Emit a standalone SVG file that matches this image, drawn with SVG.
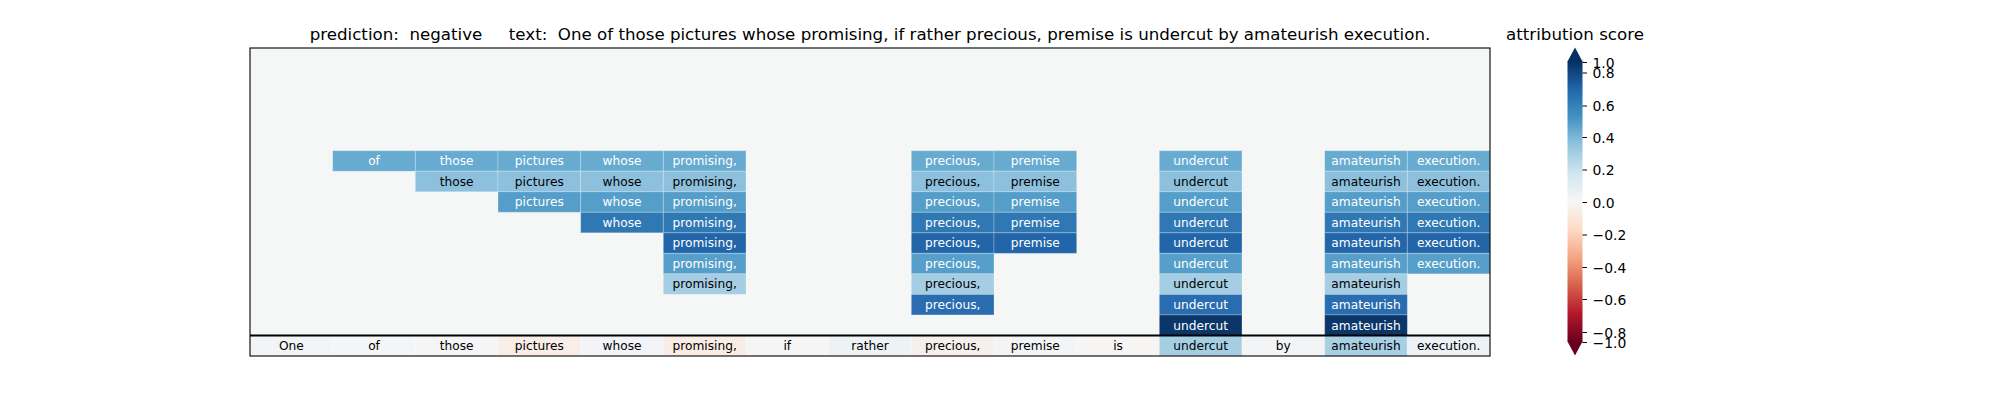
<svg xmlns="http://www.w3.org/2000/svg" width="2000" height="400" viewBox="0 0 2000 400">
<defs>
<style>
text{font-family:"DejaVu Sans","Liberation Sans",sans-serif;}
.t{font-size:12.2px;text-anchor:middle;}
.w{fill:#ffffff;}
.k{fill:#000000;}
.c rect{stroke:#ffffff;stroke-opacity:0.25;stroke-width:1;}
.title{font-size:16.67px;text-anchor:middle;fill:#000;white-space:pre;}
.tick{font-size:13.9px;fill:#000;}
.r5{fill:#68abd0;} .r6{fill:#8cc0dd;} .r7{fill:#549ec9;} .r8{fill:#2f78b4;} .r9{fill:#2265a8;}
.r10{fill:#559fca;} .r11{fill:#a5cde3;} .r12{fill:#2a6cb0;} .r13{fill:#0b3669;}
</style>
<linearGradient id="rdbu" x1="0" y1="0" x2="0" y2="1">
<stop offset="0" stop-color="#053061"/>
<stop offset="0.1" stop-color="#2166ac"/>
<stop offset="0.2" stop-color="#4393c3"/>
<stop offset="0.3" stop-color="#92c5de"/>
<stop offset="0.4" stop-color="#d1e5f0"/>
<stop offset="0.5" stop-color="#f7f7f7"/>
<stop offset="0.6" stop-color="#fddbc7"/>
<stop offset="0.7" stop-color="#f4a582"/>
<stop offset="0.8" stop-color="#d6604d"/>
<stop offset="0.9" stop-color="#b2182b"/>
<stop offset="1" stop-color="#67001f"/>
</linearGradient>
</defs>
<rect x="0" y="0" width="2000" height="400" fill="#ffffff"/>
<text class="title" x="870" y="39.5">prediction:  negative     text:  One of those pictures whose promising, if rather precious, premise is undercut by amateurish execution.</text>
<text class="title" x="1575" y="40">attribution score</text>
<rect x="250" y="48" width="1240" height="308" fill="#f5f6f6"/>

<g id="row5" class="c">
<rect class="r5" x="332.67" y="150.67" width="82.67" height="20.53"/>
<rect class="r5" x="415.33" y="150.67" width="82.67" height="20.53"/>
<rect class="r5" x="498" y="150.67" width="82.67" height="20.53"/>
<rect class="r5" x="580.67" y="150.67" width="82.67" height="20.53"/>
<rect class="r5" x="663.33" y="150.67" width="82.67" height="20.53"/>
<rect class="r5" x="911.33" y="150.67" width="82.67" height="20.53"/>
<rect class="r5" x="994" y="150.67" width="82.67" height="20.53"/>
<rect class="r5" x="1159.33" y="150.67" width="82.67" height="20.53"/>
<rect class="r5" x="1324.67" y="150.67" width="82.67" height="20.53"/>
<rect class="r5" x="1407.33" y="150.67" width="82.67" height="20.53"/>
<text class="t w" x="374" y="165.2">of</text>
<text class="t w" x="456.67" y="165.2">those</text>
<text class="t w" x="539.33" y="165.2">pictures</text>
<text class="t w" x="622" y="165.2">whose</text>
<text class="t w" x="704.67" y="165.2">promising,</text>
<text class="t w" x="952.67" y="165.2">precious,</text>
<text class="t w" x="1035.33" y="165.2">premise</text>
<text class="t w" x="1200.67" y="165.2">undercut</text>
<text class="t w" x="1366" y="165.2">amateurish</text>
<text class="t w" x="1448.67" y="165.2">execution.</text>
</g>

<g id="row6" class="c">
<rect class="r6" x="415.33" y="171.2" width="82.67" height="20.53"/>
<rect class="r6" x="498" y="171.2" width="82.67" height="20.53"/>
<rect class="r6" x="580.67" y="171.2" width="82.67" height="20.53"/>
<rect class="r6" x="663.33" y="171.2" width="82.67" height="20.53"/>
<rect class="r6" x="911.33" y="171.2" width="82.67" height="20.53"/>
<rect class="r6" x="994" y="171.2" width="82.67" height="20.53"/>
<rect class="r6" x="1159.33" y="171.2" width="82.67" height="20.53"/>
<rect class="r6" x="1324.67" y="171.2" width="82.67" height="20.53"/>
<rect class="r6" x="1407.33" y="171.2" width="82.67" height="20.53"/>
<text class="t k" x="456.67" y="185.8">those</text>
<text class="t k" x="539.33" y="185.8">pictures</text>
<text class="t k" x="622" y="185.8">whose</text>
<text class="t k" x="704.67" y="185.8">promising,</text>
<text class="t k" x="952.67" y="185.8">precious,</text>
<text class="t k" x="1035.33" y="185.8">premise</text>
<text class="t k" x="1200.67" y="185.8">undercut</text>
<text class="t k" x="1366" y="185.8">amateurish</text>
<text class="t k" x="1448.67" y="185.8">execution.</text>
</g>

<g id="row7" class="c">
<rect class="r7" x="498" y="191.73" width="82.67" height="20.53"/>
<rect class="r7" x="580.67" y="191.73" width="82.67" height="20.53"/>
<rect class="r7" x="663.33" y="191.73" width="82.67" height="20.53"/>
<rect class="r7" x="911.33" y="191.73" width="82.67" height="20.53"/>
<rect class="r7" x="994" y="191.73" width="82.67" height="20.53"/>
<rect class="r7" x="1159.33" y="191.73" width="82.67" height="20.53"/>
<rect class="r7" x="1324.67" y="191.73" width="82.67" height="20.53"/>
<rect class="r7" x="1407.33" y="191.73" width="82.67" height="20.53"/>
<text class="t w" x="539.33" y="206.3">pictures</text>
<text class="t w" x="622" y="206.3">whose</text>
<text class="t w" x="704.67" y="206.3">promising,</text>
<text class="t w" x="952.67" y="206.3">precious,</text>
<text class="t w" x="1035.33" y="206.3">premise</text>
<text class="t w" x="1200.67" y="206.3">undercut</text>
<text class="t w" x="1366" y="206.3">amateurish</text>
<text class="t w" x="1448.67" y="206.3">execution.</text>
</g>

<g id="row8" class="c">
<rect class="r8" x="580.67" y="212.27" width="82.67" height="20.53"/>
<rect class="r8" x="663.33" y="212.27" width="82.67" height="20.53"/>
<rect class="r8" x="911.33" y="212.27" width="82.67" height="20.53"/>
<rect class="r8" x="994" y="212.27" width="82.67" height="20.53"/>
<rect class="r8" x="1159.33" y="212.27" width="82.67" height="20.53"/>
<rect class="r8" x="1324.67" y="212.27" width="82.67" height="20.53"/>
<rect class="r8" x="1407.33" y="212.27" width="82.67" height="20.53"/>
<text class="t w" x="622" y="226.8">whose</text>
<text class="t w" x="704.67" y="226.8">promising,</text>
<text class="t w" x="952.67" y="226.8">precious,</text>
<text class="t w" x="1035.33" y="226.8">premise</text>
<text class="t w" x="1200.67" y="226.8">undercut</text>
<text class="t w" x="1366" y="226.8">amateurish</text>
<text class="t w" x="1448.67" y="226.8">execution.</text>
</g>

<g id="row9" class="c">
<rect class="r9" x="663.33" y="232.8" width="82.67" height="20.53"/>
<rect class="r9" x="911.33" y="232.8" width="82.67" height="20.53"/>
<rect class="r9" x="994" y="232.8" width="82.67" height="20.53"/>
<rect class="r9" x="1159.33" y="232.8" width="82.67" height="20.53"/>
<rect class="r9" x="1324.67" y="232.8" width="82.67" height="20.53"/>
<rect class="r9" x="1407.33" y="232.8" width="82.67" height="20.53"/>
<text class="t w" x="704.67" y="247.4">promising,</text>
<text class="t w" x="952.67" y="247.4">precious,</text>
<text class="t w" x="1035.33" y="247.4">premise</text>
<text class="t w" x="1200.67" y="247.4">undercut</text>
<text class="t w" x="1366" y="247.4">amateurish</text>
<text class="t w" x="1448.67" y="247.4">execution.</text>
</g>

<g id="row10" class="c">
<rect class="r10" x="663.33" y="253.33" width="82.67" height="20.53"/>
<rect class="r10" x="911.33" y="253.33" width="82.67" height="20.53"/>
<rect class="r10" x="1159.33" y="253.33" width="82.67" height="20.53"/>
<rect class="r10" x="1324.67" y="253.33" width="82.67" height="20.53"/>
<rect class="r10" x="1407.33" y="253.33" width="82.67" height="20.53"/>
<text class="t w" x="704.67" y="267.9">promising,</text>
<text class="t w" x="952.67" y="267.9">precious,</text>
<text class="t w" x="1200.67" y="267.9">undercut</text>
<text class="t w" x="1366" y="267.9">amateurish</text>
<text class="t w" x="1448.67" y="267.9">execution.</text>
</g>

<g id="row11" class="c">
<rect class="r11" x="663.33" y="273.87" width="82.67" height="20.53"/>
<rect class="r11" x="911.33" y="273.87" width="82.67" height="20.53"/>
<rect class="r11" x="1159.33" y="273.87" width="82.67" height="20.53"/>
<rect class="r11" x="1324.67" y="273.87" width="82.67" height="20.53"/>
<text class="t k" x="704.67" y="288.4">promising,</text>
<text class="t k" x="952.67" y="288.4">precious,</text>
<text class="t k" x="1200.67" y="288.4">undercut</text>
<text class="t k" x="1366" y="288.4">amateurish</text>
</g>

<g id="row12" class="c">
<rect class="r12" x="911.33" y="294.4" width="82.67" height="20.53"/>
<rect class="r12" x="1159.33" y="294.4" width="82.67" height="20.53"/>
<rect class="r12" x="1324.67" y="294.4" width="82.67" height="20.53"/>
<text class="t w" x="952.67" y="309">precious,</text>
<text class="t w" x="1200.67" y="309">undercut</text>
<text class="t w" x="1366" y="309">amateurish</text>
</g>

<g id="row13" class="c">
<rect class="r13" x="1159.33" y="314.93" width="82.67" height="20.53"/>
<rect class="r13" x="1324.67" y="314.93" width="82.67" height="20.53"/>
<text class="t w" x="1200.67" y="329.5">undercut</text>
<text class="t w" x="1366" y="329.5">amateurish</text>
</g>

<g id="input-row" class="c">
<rect fill="#f3f4f6" x="250" y="335.47" width="82.67" height="20.53"/>
<rect fill="#f4f5f7" x="332.67" y="335.47" width="82.67" height="20.53"/>
<rect fill="#f5f5f6" x="415.33" y="335.47" width="82.67" height="20.53"/>
<rect fill="#f9ede7" x="498" y="335.47" width="82.67" height="20.53"/>
<rect fill="#f3f4f7" x="580.67" y="335.47" width="82.67" height="20.53"/>
<rect fill="#f9ece5" x="663.33" y="335.47" width="82.67" height="20.53"/>
<rect fill="#f5f5f5" x="746" y="335.47" width="82.67" height="20.53"/>
<rect fill="#edf2f5" x="828.67" y="335.47" width="82.67" height="20.53"/>
<rect fill="#f7efeb" x="911.33" y="335.47" width="82.67" height="20.53"/>
<rect fill="#f2f4f6" x="994" y="335.47" width="82.67" height="20.53"/>
<rect fill="#f6f5f4" x="1076.67" y="335.47" width="82.67" height="20.53"/>
<rect fill="#a6cee3" x="1159.33" y="335.47" width="82.67" height="20.53"/>
<rect fill="#f2f4f6" x="1242" y="335.47" width="82.67" height="20.53"/>
<rect fill="#a8cfe4" x="1324.67" y="335.47" width="82.67" height="20.53"/>
<rect fill="#edf2f6" x="1407.33" y="335.47" width="82.67" height="20.53"/>
<text class="t k" x="291.33" y="350">One</text>
<text class="t k" x="374" y="350">of</text>
<text class="t k" x="456.67" y="350">those</text>
<text class="t k" x="539.33" y="350">pictures</text>
<text class="t k" x="622" y="350">whose</text>
<text class="t k" x="704.67" y="350">promising,</text>
<text class="t k" x="787.33" y="350">if</text>
<text class="t k" x="870" y="350">rather</text>
<text class="t k" x="952.67" y="350">precious,</text>
<text class="t k" x="1035.33" y="350">premise</text>
<text class="t k" x="1118" y="350">is</text>
<text class="t k" x="1200.67" y="350">undercut</text>
<text class="t k" x="1283.33" y="350">by</text>
<text class="t k" x="1366" y="350">amateurish</text>
<text class="t k" x="1448.67" y="350">execution.</text>
</g>

<line x1="250" y1="335.5" x2="1490" y2="335.5" stroke="#000" stroke-width="2"/>
<rect x="250" y="48" width="1240" height="308" fill="none" stroke="#000" stroke-width="1.1"/>

<g id="colorbar">
<rect x="1567.5" y="61" width="15" height="281" fill="url(#rdbu)"/>
<polygon points="1567.5,61.5 1582.5,61.5 1575,47.5" fill="#053061"/>
<polygon points="1567.5,341.5 1582.5,341.5 1575,355.5" fill="#67001f"/>
<g stroke="#000" stroke-width="1">
<line x1="1582.5" y1="62.5" x2="1587" y2="62.5"/>
<line x1="1582.5" y1="73" x2="1587" y2="73"/>
<line x1="1582.5" y1="106" x2="1587" y2="106"/>
<line x1="1582.5" y1="137.5" x2="1587" y2="137.5"/>
<line x1="1582.5" y1="170" x2="1587" y2="170"/>
<line x1="1582.5" y1="202.5" x2="1587" y2="202.5"/>
<line x1="1582.5" y1="235" x2="1587" y2="235"/>
<line x1="1582.5" y1="267.5" x2="1587" y2="267.5"/>
<line x1="1582.5" y1="299.5" x2="1587" y2="299.5"/>
<line x1="1582.5" y1="332.5" x2="1587" y2="332.5"/>
<line x1="1582.5" y1="342.5" x2="1587" y2="342.5"/>
</g>
<text class="tick" x="1592.5" y="67.5">1.0</text>
<text class="tick" x="1592.5" y="78">0.8</text>
<text class="tick" x="1592.5" y="111">0.6</text>
<text class="tick" x="1592.5" y="142.5">0.4</text>
<text class="tick" x="1592.5" y="175">0.2</text>
<text class="tick" x="1592.5" y="207.5">0.0</text>
<text class="tick" x="1592.5" y="240">−0.2</text>
<text class="tick" x="1592.5" y="272.5">−0.4</text>
<text class="tick" x="1592.5" y="304.5">−0.6</text>
<text class="tick" x="1592.5" y="337.5">−0.8</text>
<text class="tick" x="1592.5" y="347.5">−1.0</text>
</g>
</svg>
